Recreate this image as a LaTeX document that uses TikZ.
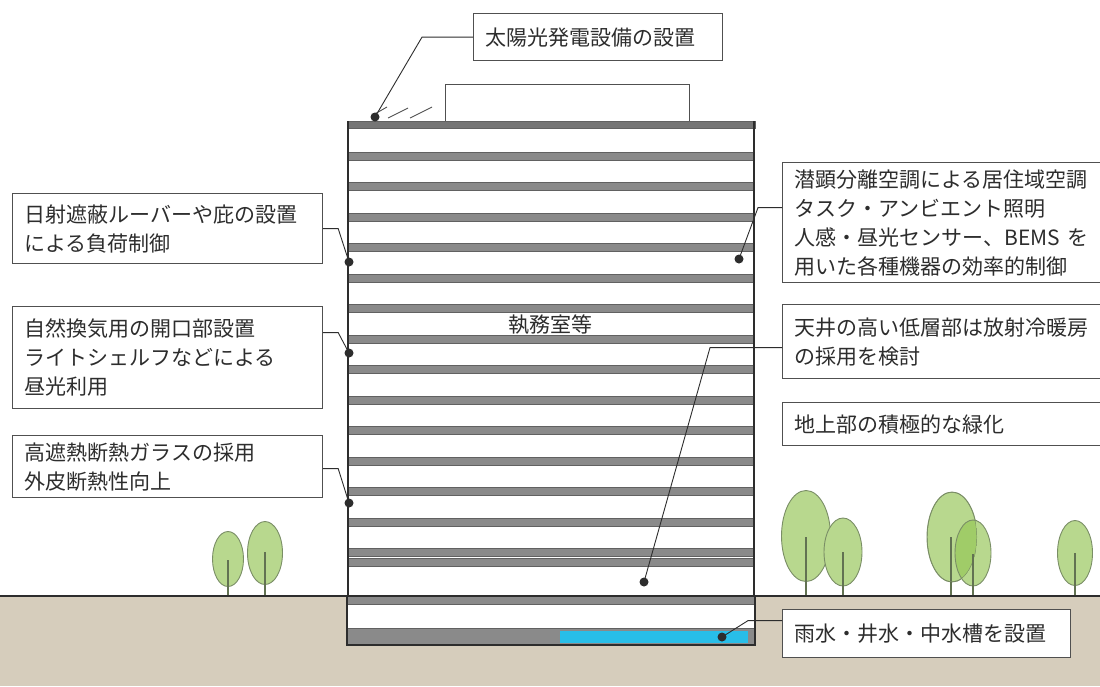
\documentclass[tikz,border=0pt]{standalone}
\usepackage{fontspec}
\newfontfamily\jpfont{Noto Sans CJK JP}
\usetikzlibrary{positioning}

\definecolor{slabgray}{RGB}{138,138,138}
\definecolor{edgegray}{RGB}{80,80,80}
\definecolor{inkgray}{RGB}{45,45,45}
\definecolor{groundtan}{RGB}{214,205,188}
\definecolor{leafgreen}{RGB}{184,216,142}
\definecolor{leafdark}{RGB}{160,204,104}
\definecolor{leafedge}{RGB}{122,142,102}
\definecolor{tankblue}{RGB}{40,190,232}

\tikzset{
  note/.style={draw=edgegray, line width=1.2pt, fill=white, anchor=north west,
    align=left, inner xsep=12pt, inner ysep=0pt, text=inkgray,
    font=\jpfont\fontsize{21}{29}\selectfont},
  slab/.style={fill=slabgray, draw=slabgray!70!black, line width=0.6pt},
  wall/.style={draw=inkgray, line width=1.8pt},
  leader/.style={draw=inkgray, line width=0.9pt},
  tree/.style={fill=leafgreen, draw=leafedge, line width=0.9pt},
  trunk/.style={draw=leafedge!80!black, line width=1.3pt},
}

\begin{document}
\begin{tikzpicture}[x=1pt,y=-1pt]
\useasboundingbox (0,0) rectangle (1100,686);
\clip (0,0) rectangle (1100,686);
\fill[white] (0,0) rectangle (1100,686);

% ground
\fill[groundtan] (0,596) rectangle (1100,686);

% trees
\filldraw[tree] (228,559) ellipse (15.5 and 27.5);
\draw[trunk] (228,560) -- (228,596);
\filldraw[tree] (265,553) ellipse (17.5 and 31.5);
\draw[trunk] (265,552) -- (265,596);
\filldraw[tree] (806,536) ellipse (24.5 and 45.5);
\draw[trunk] (806,537) -- (806,596);
\filldraw[tree] (843,552) ellipse (19 and 34);
\draw[trunk] (843,552) -- (843,596);
\filldraw[tree] (952,537) ellipse (25 and 45);
\draw[trunk] (951,537) -- (951,596);
\fill[leafgreen] (973,553) ellipse (18 and 33);
\begin{scope}
  \clip (952,537) ellipse (25 and 45);
  \fill[leafdark] (973,553) ellipse (18 and 33);
  \draw[leafedge, line width=0.9pt] (952,537) ellipse (25 and 45);
\end{scope}
\draw[leafedge, line width=0.9pt] (973,553) ellipse (18 and 33);
\draw[trunk] (973,554) -- (973,596);
\filldraw[tree] (1075,553) ellipse (17.5 and 32.5);
\draw[trunk] (1075,553) -- (1075,596);

\draw[line width=2pt, inkgray] (0,596) -- (1100,596);

% rooftop
\draw[draw=edgegray, line width=1pt, fill=white] (445,84) rectangle (689,121);
\draw[edgegray, line width=0.9pt] (373,115) -- (387,107);
\draw[edgegray, line width=0.9pt] (388,118) -- (408,108);
\draw[edgegray, line width=0.9pt] (410,118) -- (432,107);
\draw[slab, fill=slabgray!85!black] (347,121) rectangle (755,128);

% floors
\foreach \k in {0,...,12} {
  \draw[slab] (348,{152+30.5*\k}) rectangle (754,{160+30.5*\k});
}
\draw[slab] (348,548) rectangle (754,556);
\draw[slab] (348,558) rectangle (754,566);
\draw[wall] (348,121) -- (348,596);
\draw[wall] (754,121) -- (754,596);

% basement
\fill[white] (347,596) rectangle (755,645);
\draw[slab] (347,596) rectangle (755,604);
\draw[slab] (347,628) rectangle (755,645);
\fill[tankblue] (560,631) rectangle (748,643);
\draw[inkgray, line width=1.4pt] (347,596) rectangle (755,645);

\node[font=\jpfont\fontsize{21}{29}\selectfont, text=inkgray] (officeLabel) at (550,325) {執務室等};

% callouts
\node[note, text width=225pt, minimum height=47pt] (pvBox) at (473,13) {太陽光発電設備の設置};
\node[note, text width=286pt, minimum height=70pt] (louverBox) at (12,193) {日射遮蔽ルーバーや庇の設置\\による負荷制御};
\node[note, text width=286pt, minimum height=102pt] (ventBox) at (12,306) {自然換気用の開口部設置\\ライトシェルフなどによる\\昼光利用};
\node[note, text width=286pt, minimum height=62pt] (glassBox) at (12,435) {高遮熱断熱ガラスの採用\\外皮断熱性向上};
\node[note, text width=298pt, minimum height=120pt] (hvacBox) at (782,162) {潜顕分離空調による居住域空調\\タスク・アンビエント照明\\人感・昼光センサー、BEMS を\\用いた各種機器の効率的制御};
\node[note, text width=298pt, minimum height=74pt] (radiantBox) at (782,304) {天井の高い低層部は放射冷暖房\\の採用を検討};
\node[note, text width=298pt, minimum height=43pt] (greenBox) at (782,402) {地上部の積極的な緑化};
\node[note, text width=264pt, minimum height=48pt] (tankBox) at (782,609) {雨水・井水・中水槽を設置};

\coordinate (pvDot) at (375,117);
\coordinate (louverDot) at (349,262);
\coordinate (ventDot) at (349,353);
\coordinate (glassDot) at (349,503);
\coordinate (hvacDot) at (739,259);
\coordinate (radiantDot) at (644,582);
\coordinate (tankDot) at (722,637);

\draw[leader] (pvBox.west) -- ++(-51,0) -- (pvDot);
\draw[leader] (louverBox.east) -- ++(15,0) -- (louverDot);
\draw[leader] ([yshift=25pt]ventBox.east) -- ++(15,0) -- (ventDot);
\draw[leader] ([yshift=-2pt]glassBox.east) -- ++(15,0) -- (glassDot);
\draw[leader] ([yshift=15pt]hvacBox.west) -- ++(-24,0) -- (hvacDot);
\draw[leader] ([yshift=-6pt]radiantBox.west) -- ++(-72,0) -- (radiantDot);
\draw[leader] ([yshift=13pt]tankBox.west) -- ++(-34,0) -- (tankDot);

\foreach \d in {pvDot,louverDot,ventDot,glassDot,hvacDot,radiantDot,tankDot}
  \fill[inkgray] (\d) circle (4.5);
\end{tikzpicture}
\end{document}
